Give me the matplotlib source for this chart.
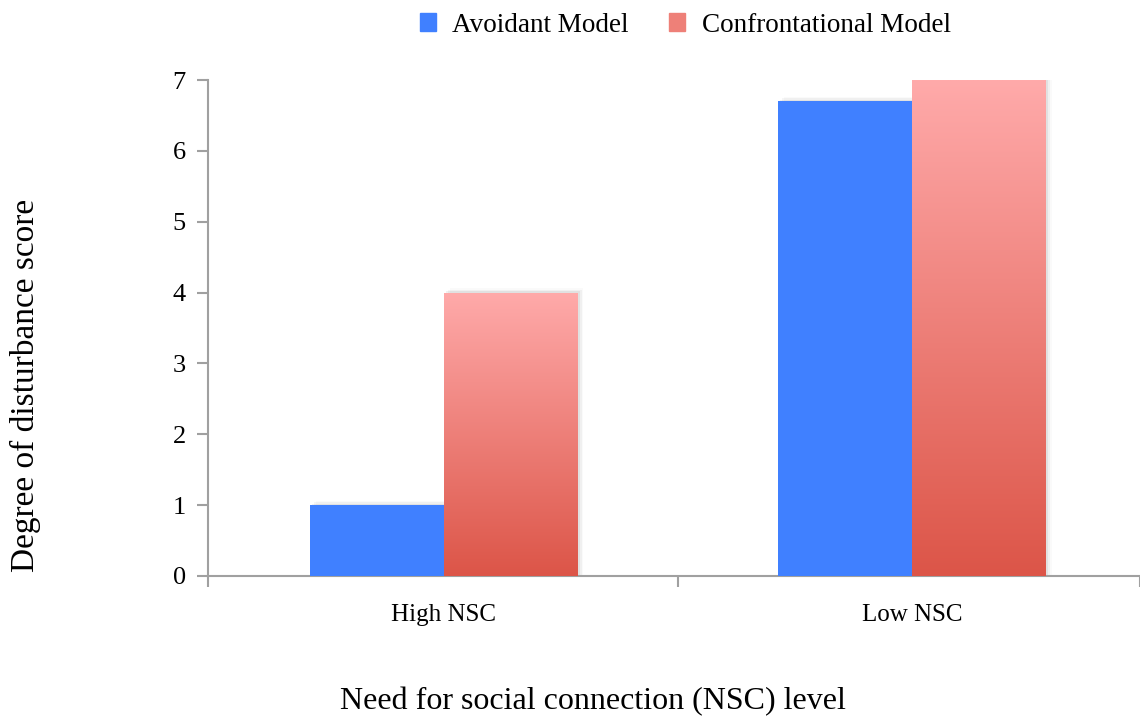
import numpy as np
import matplotlib.pyplot as plt
from matplotlib.colors import LinearSegmentedColormap
from matplotlib.patches import Rectangle

categories = ["High NSC", "Low NSC"]
avoidant = [1.0, 6.7]
confrontational = [4.0, 7.0]
series_names = ["Avoidant Model", "Confrontational Model"]

plt.rcParams['font.family'] = ['Liberation Serif', 'DejaVu Serif']

blue = '#4080FF'
red_cmap = LinearSegmentedColormap.from_list('redgrad', ['#DC5548', '#FFAAAA'])
axis_grey = '#A0A0A0'

fig = plt.figure(figsize=(11.4, 7.17), dpi=100)
ax = fig.add_axes([0.1825, 0.1967, 0.8175, 0.6917])

x = np.arange(len(categories))
w = 0.286

bars_a = ax.bar(x - w / 2, avoidant, w, color=blue, zorder=3, label=series_names[0])
bars_c = ax.bar(x + w / 2, confrontational, w, color='none', zorder=3, label=series_names[1])

# faint drop shadow behind every bar
grad = np.linspace(0, 1, 256).reshape(-1, 1)
for b in list(bars_a) + list(bars_c):
    bx, by = b.get_x(), b.get_y()
    bw, bh = b.get_width(), b.get_height()
    for k, a in enumerate([0.06, 0.04, 0.02]):
        sh = Rectangle((bx + 0.004 * (k + 1), by), bw, bh + 0.02 * (k + 1),
                       color='black', alpha=a, lw=0, zorder=2)
        ax.add_patch(sh)
# vertical gradient fill for the red bars
for b in bars_c:
    bx, bw, bh = b.get_x(), b.get_width(), b.get_height()
    im = ax.imshow(grad, cmap=red_cmap, aspect='auto', origin='lower',
                   extent=[bx, bx + bw, 0, bh], zorder=3)
    im.set_clip_path(b)

ax.set_xlim(-0.504, 1.487)
ax.set_ylim(0, 7)

for s in ['top', 'right']:
    ax.spines[s].set_visible(False)
ax.spines['left'].set_color(axis_grey)
ax.spines['bottom'].set_color(axis_grey)
ax.spines['left'].set_linewidth(1.5)
ax.spines['bottom'].set_linewidth(1.5)
ax.spines['left'].set_bounds(0, 7)

ax.set_yticks(range(8))
ax.tick_params(axis='y', length=8, width=1.5, color=axis_grey, labelsize=19, pad=8)
ax.set_xticks(x)
ax.set_xticklabels(categories)
ax.tick_params(axis='x', which='major', length=0, labelsize=18, pad=20)
ax.set_xticks([-0.504, 0.5, 1.487], minor=True)
ax.tick_params(axis='x', which='minor', length=8, width=1.5, color=axis_grey)

fig.text(0.022, 0.463, "Degree of disturbance score", fontsize=24,
         rotation=90, ha='center', va='center')
fig.text(0.52, 0.022, "Need for social connection (NSC) level", fontsize=23,
         ha='center', va='center')

handles = [Rectangle((0, 0), 1, 1, color=blue), Rectangle((0, 0), 1, 1, color='#EE8078')]
fig.legend(handles, series_names, loc='center', bbox_to_anchor=(0.601, 0.965), ncol=2,
           frameon=False, fontsize=19.5, handlelength=0.6, handleheight=0.6,
           handletextpad=0.6, columnspacing=1.5)

fig.savefig('out.png', dpi=100)
